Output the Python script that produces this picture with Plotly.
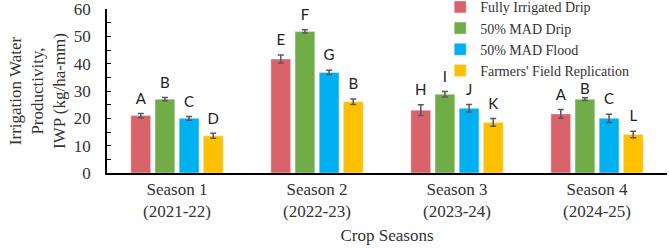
import plotly.graph_objects as go

seasons = ["Season 1<br>(2021-22)", "Season 2<br>(2022-23)", "Season 3<br>(2023-24)", "Season 4<br>(2024-25)"]
series_names = ["Fully Irrigated Drip", "50% MAD Drip", "50% MAD Flood", "Farmers' Field Replication"]
colors = ["#D9636A", "#70AD47", "#00B0F0", "#FFC000"]

fully_drip = [21.0, 41.7, 23.0, 21.6]
mad_drip = [27.0, 51.8, 28.8, 27.0]
mad_flood = [20.0, 36.8, 23.7, 20.0]
farmers = [13.6, 26.1, 18.5, 14.1]

fully_drip_err = [0.8, 1.5, 2.0, 1.6]
mad_drip_err = [0.6, 0.6, 1.0, 0.5]
mad_flood_err = [0.7, 0.8, 1.4, 1.5]
farmers_err = [0.9, 1.0, 1.4, 1.2]

fully_drip_letters = ["A", "E", "H", "A"]
mad_drip_letters = ["B", "F", "I", "B"]
mad_flood_letters = ["C", "G", "J", "C"]
farmers_letters = ["D", "B", "K", "L"]

values = [fully_drip, mad_drip, mad_flood, farmers]
errs = [fully_drip_err, mad_drip_err, mad_flood_err, farmers_err]
letters = [fully_drip_letters, mad_drip_letters, mad_flood_letters, farmers_letters]

fig = go.Figure()
for i, name in enumerate(series_names):
    fig.add_trace(go.Bar(
        x=seasons, y=values[i], name=name, marker_color=colors[i],
        offsetgroup=str(i),
        error_y=dict(type="data", array=errs[i], color="#595959", thickness=1.5, width=3),
    ))
for i, name in enumerate(series_names):
    # invisible marker only pads the letter above the error bar (tighter under the legend)
    pad = [8, 8, 8, 0] if i == 1 else 8
    fig.add_trace(go.Scatter(
        x=seasons, y=[v + e for v, e in zip(values[i], errs[i])],
        mode="text+markers", text=letters[i], textposition="top center",
        marker=dict(size=pad, opacity=0),
        textfont=dict(family="Lato, Open Sans, sans-serif", size=15, color="#222222"),
        offsetgroup=str(i), showlegend=False, hoverinfo="skip", cliponaxis=False,
    ))

fig.update_layout(
    width=669, height=248,
    margin=dict(l=107, r=2, t=9, b=75, autoexpand=False),
    paper_bgcolor="white", plot_bgcolor="white",
    barmode="group", scattermode="group",
    bargap=0.31, bargroupgap=0.18, scattergap=0.31,
    font=dict(family="Liberation Serif, Times New Roman, serif", size=17, color="#333333"),
    legend=dict(
        x=0.595, y=1.108, xanchor="left", yanchor="top",
        bgcolor="rgba(0,0,0,0)", font=dict(size=14, color="#333333"),
        tracegroupgap=0, itemwidth=30,
    ),
    showlegend=True,
)
fig.update_xaxes(
    showline=True, linecolor="black", linewidth=1.5, ticks="",
    tickfont=dict(size=17, color="#333333"),
    title=dict(text="Crop Seasons", font=dict(size=17, color="#333333"), standoff=9),
)
fig.update_yaxes(
    range=[0, 60], dtick=10, showgrid=False, zeroline=False,
    showline=True, linecolor="black", linewidth=1.5,
    ticks="inside", ticklen=4, tickcolor="black",
    minor=dict(ticks="inside", dtick=5, ticklen=4, tickcolor="black"),
    tickfont=dict(size=17, color="#333333"), ticklabelstandoff=11,
    ticklabeloverflow="allow",
    title=dict(text="Irrigation Water<br>Productivity,<br>IWP (kg/ha-mm)", font=dict(size=17, color="#333333"), standoff=4),
)

fig.write_html("out.html")
